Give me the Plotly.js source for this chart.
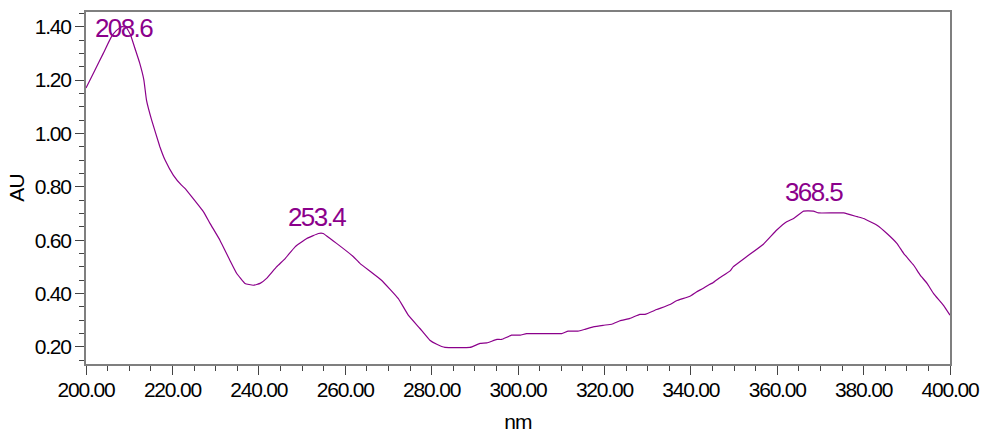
<!DOCTYPE html>
<html>
<head>
<meta charset="utf-8">
<script src="https://cdn.plot.ly/plotly-3.0.1.min.js"></script>
<style>
html,body{margin:0;padding:0;background:#fff;}
#chart{width:987px;height:436px;}
#chart .xtick text, #chart .ytick text {letter-spacing:-1.2px;}
#chart .annotation-text {letter-spacing:-1.6px;}
#chart .xtitle, #chart .ytitle {letter-spacing:-0.8px;}
</style>
</head>
<body>
<div id="chart"></div>
<script>
// Wavelength (nm) and absorbance (AU)
const wavelength = [200,202,204,205.8,207,208.3,209.3,210.3,211.3,212.4,213.4,214,215.2,217.1,
  218.3,220.2,222.1,222.9,224.5,227.2,228.7,231,233.3,234.9,236.8,238.7,
  240.3,241.8,244.1,246.1,248.4,251.1,253.8,254.9,256.5,258,261.9,263.4,
  268.4,272.3,274.6,277.3,279.6,281.2,283.1,288.9,291.2,292.8,295.1,296.2,
  298.5,300.5,302,310.1,311.6,313.9,315.5,317.4,319.7,321.7,323.6,325.9,
  328.2,329.4,332.1,335.2,336.7,339.8,341.3,342.8,344.4,345.1,346.7,349.1,
  349.8,352.9,356.8,359.9,362.2,363.8,366.1,368.4,369.6,375.4,378.5,380,
  383.1,385.4,387.7,389.3,391.6,393.1,394.7,396.2,398.5,400];
const absorbance = [1.17,1.235,1.30,1.36,1.385,1.40,1.398,1.37,1.32,1.265,1.20,1.125,1.05,0.95,
  0.90,0.844,0.806,0.794,0.762,0.706,0.663,0.60,0.525,0.475,0.438,0.431,
  0.438,0.457,0.50,0.531,0.575,0.606,0.625,0.625,0.606,0.588,0.538,0.513,
  0.450,0.381,0.319,0.269,0.225,0.21,0.198,0.198,0.213,0.215,0.228,0.228,
  0.244,0.244,0.25,0.25,0.259,0.259,0.266,0.275,0.281,0.285,0.298,0.307,
  0.322,0.322,0.34,0.359,0.373,0.39,0.406,0.419,0.435,0.44,0.459,0.485,
  0.50,0.538,0.585,0.638,0.669,0.681,0.709,0.709,0.702,0.702,0.688,0.681,
  0.656,0.625,0.588,0.55,0.506,0.469,0.438,0.40,0.356,0.319];
// Peak labels
const peakNm = [208.6, 253.4, 368.5];
const peakAU = [1.40, 0.625, 0.709];
const peakLabels = ["208.6", "253.4", "368.5"];

const purple = "#8B008B";
const fontFam = "Liberation Sans, Arial, sans-serif";
const labelShift = [-1, 17, 19];

const trace = {
  x: wavelength, y: absorbance, type: "scatter", mode: "lines",
  line: {color: purple, width: 1.2, shape: "spline", smoothing: 0.3}, hoverinfo: "skip"
};

const annotations = peakNm.map((p, i) => ({
  x: p, y: peakAU[i], text: peakLabels[i], showarrow: false,
  xanchor: "center", yanchor: "middle", yshift: labelShift[i],
  font: {family: fontFam, size: 26, color: purple}
}));

const axisCommon = {
  showline: true, linecolor: "#7f7f7f", linewidth: 2, mirror: true,
  showgrid: false, zeroline: false, ticks: "outside", tickcolor: "#444",
  tickwidth: 1, tickfont: {family: fontFam, size: 21, color: "#000"},
  tickformat: ".2f"
};

const layout = {
  width: 987, height: 436,
  margin: {l: 86, r: 37, t: 12, b: 72},
  paper_bgcolor: "#fff", plot_bgcolor: "#fff",
  showlegend: false,
  xaxis: Object.assign({}, axisCommon, {
    range: [200, 400], tick0: 200, dtick: 20, ticklen: 9, ticklabelstandoff: -3,
    minor: {dtick: 5, ticklen: 5, ticks: "outside", tickcolor: "#444", showgrid: false},
    title: {text: "nm", font: {family: fontFam, size: 21, color: "#000"}, standoff: 14}
  }),
  yaxis: Object.assign({}, axisCommon, {
    range: [0.136, 1.455], tick0: 0.2, dtick: 0.2, ticklen: 9,
    minor: {dtick: 0.05, ticklen: 5, ticks: "outside", tickcolor: "#444", showgrid: false},
    title: {text: "AU", font: {family: fontFam, size: 21, color: "#000"}, standoff: 0}
  }),
  annotations: annotations
};

Plotly.newPlot("chart", [trace], layout, {staticPlot: true, displayModeBar: false});
</script>
</body>
</html>
